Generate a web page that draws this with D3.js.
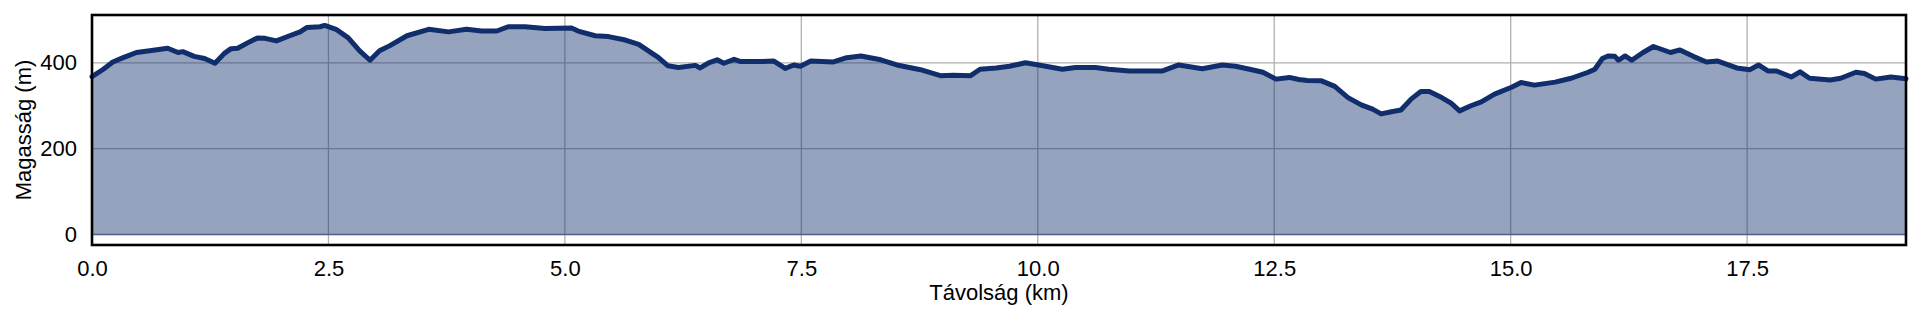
<!DOCTYPE html>
<html>
<head>
<meta charset="utf-8">
<script src="https://cdn.jsdelivr.net/npm/d3@7"></script>
<style>
	html, body { margin: 0; padding: 0; background: #fff; }
	svg { display: block; font-family: "Liberation Sans", Arial, sans-serif; }
</style>
</head>
<body>
<div id="chart"></div>
<script>
// distance along the route (km)
var distKm = [
	0.00, 0.12, 0.22, 0.33, 0.47, 0.61, 0.80, 0.91, 0.96, 1.08, 1.19, 1.30, 1.40, 1.47, 1.54,
	1.65, 1.75, 1.83, 1.95, 2.09, 2.20, 2.27, 2.41, 2.46, 2.58, 2.71, 2.83, 2.94, 3.04, 3.15,
	3.33, 3.56, 3.77, 3.96, 4.12, 4.28, 4.40, 4.58, 4.79, 5.07, 5.14, 5.32, 5.46, 5.64, 5.78,
	5.99, 6.09, 6.20, 6.38, 6.43, 6.52, 6.61, 6.68, 6.79, 6.86, 7.07, 7.21, 7.33, 7.42, 7.49,
	7.60, 7.84, 7.98, 8.13, 8.34, 8.51, 8.76, 8.97, 9.11, 9.29, 9.39, 9.56, 9.70, 9.87, 10.01,
	10.26, 10.40, 10.61, 10.75, 10.97, 11.32, 11.49, 11.74, 11.95, 12.09, 12.24, 12.38, 12.52, 12.66, 12.76,
	12.85, 13.00, 13.14, 13.28, 13.42, 13.54, 13.63, 13.74, 13.84, 13.95, 14.05, 14.14, 14.27, 14.37, 14.46,
	14.58, 14.69, 14.83, 15.01, 15.11, 15.25, 15.47, 15.64, 15.82, 15.89, 15.97, 16.03, 16.10, 16.14, 16.21,
	16.28, 16.40, 16.51, 16.69, 16.79, 16.93, 17.07, 17.19, 17.39, 17.53, 17.62, 17.72, 17.81, 17.97, 18.06,
	18.16, 18.38, 18.49, 18.65, 18.74, 18.86, 19.02, 19.18
];

// elevation (m)
var elevM = [
	368, 385, 402, 412, 424, 428, 434, 424, 426, 415, 410, 399, 422, 433, 434,
	447, 458, 457, 451, 463, 472, 482, 484, 487, 478, 458, 428, 406, 428, 440,
	463, 478, 472, 478, 474, 474, 484, 484, 480, 481, 474, 463, 461, 453, 443,
	412, 393, 389, 394, 388, 400, 407, 399, 408, 403, 403, 404, 387, 395, 392,
	404, 402, 412, 416, 407, 395, 384, 370, 371, 370, 385, 388, 392, 400, 395,
	385, 389, 389, 385, 381, 381, 395, 386, 395, 392, 385, 378, 362, 366, 361,
	359, 358, 345, 319, 302, 292, 281, 286, 290, 316, 333, 333, 319, 306, 288,
	300, 309, 327, 343, 354, 348, 355, 364, 378, 385, 410, 416, 415, 406, 416,
	406, 424, 438, 424, 430, 415, 402, 404, 388, 384, 395, 381, 381, 367, 379,
	364, 360, 364, 378, 375, 362, 367, 363
];

var xTicks = [0, 2.5, 5, 7.5, 10, 12.5, 15, 17.5];
var yTicks = [0, 200, 400];
var xTitle = "Távolság (km)";
var yTitle = "Magasság (m)";

var W = 1920, H = 320;
var margin = {top: 15, right: 14, bottom: 75, left: 92};
var width = W - margin.left - margin.right;
var height = H - margin.top - margin.bottom;

var data = distKm.map(function(d, i) { return {x: d, y: elevM[i]}; });

var yMax = d3.max(elevM), pad = yMax * 0.05;

var xScale = d3.scaleLinear()
		.domain([0, d3.max(distKm)])
		.range([0, width]);

var yScale = d3.scaleLinear()
		.domain([-pad, yMax + pad])
		.range([height, 0]);

var svg = d3.select("#chart").append("svg")
		.attr("width", W)
		.attr("height", H);

svg.append("rect").attr("width", W).attr("height", H).attr("fill", "#fff");

var g = svg.append("g")
		.attr("transform", "translate(" + margin.left + "," + margin.top + ")");

// grid
g.append("g").attr("class", "grid")
		.selectAll("line.gx")
		.data(xTicks)
	.enter().append("line")
		.attr("x1", function(d) { return xScale(d); })
		.attr("x2", function(d) { return xScale(d); })
		.attr("y1", 0)
		.attr("y2", height)
		.attr("stroke", "#b0b0b0")
		.attr("stroke-width", 1.3);

g.select(".grid").selectAll("line.gy")
		.data(yTicks)
	.enter().append("line")
		.attr("x1", 0)
		.attr("x2", width)
		.attr("y1", function(d) { return yScale(d); })
		.attr("y2", function(d) { return yScale(d); })
		.attr("stroke", "#b0b0b0")
		.attr("stroke-width", 1.3);

// filled area
var area = d3.area()
		.x(function(d) { return xScale(d.x); })
		.y0(yScale(0))
		.y1(function(d) { return yScale(d.y); });

g.append("path")
		.datum(data)
		.attr("d", area)
		.attr("fill", "rgba(16,45,108,0.44)")
		.attr("stroke", "rgba(16,45,108,0.5)")
		.attr("stroke-width", 1.5);

// profile line
var line = d3.line()
		.x(function(d) { return xScale(d.x); })
		.y(function(d) { return yScale(d.y); });

g.append("path")
		.datum(data)
		.attr("d", line)
		.attr("fill", "none")
		.attr("stroke", "#102d6c")
		.attr("stroke-width", 5)
		.attr("stroke-linejoin", "round")
		.attr("stroke-linecap", "round");

// frame
g.append("rect")
		.attr("width", width)
		.attr("height", height)
		.attr("fill", "none")
		.attr("stroke", "#000")
		.attr("stroke-width", 2.6);

// axes
var xAxis = d3.axisBottom(xScale)
		.tickValues(xTicks)
		.tickSize(0)
		.tickPadding(15)
		.tickFormat(d3.format(".1f"));

var yAxis = d3.axisLeft(yScale)
		.tickValues(yTicks)
		.tickSize(0)
		.tickPadding(15);

g.append("g")
		.attr("transform", "translate(0," + height + ")")
		.call(xAxis);

g.append("g")
		.call(yAxis);

g.selectAll(".domain").remove();
g.selectAll(".tick text")
		.attr("font-size", 22)
		.attr("font-family", "Liberation Sans, Arial, sans-serif")
		.attr("fill", "#000");

// axis titles
svg.append("text")
		.attr("x", margin.left + width / 2)
		.attr("y", 300)
		.attr("text-anchor", "middle")
		.attr("font-size", 22)
		.text(xTitle);

svg.append("text")
		.attr("transform", "translate(31," + (margin.top + height / 2) + ") rotate(-90)")
		.attr("text-anchor", "middle")
		.attr("font-size", 22)
		.text(yTitle);
</script>
</body>
</html>
